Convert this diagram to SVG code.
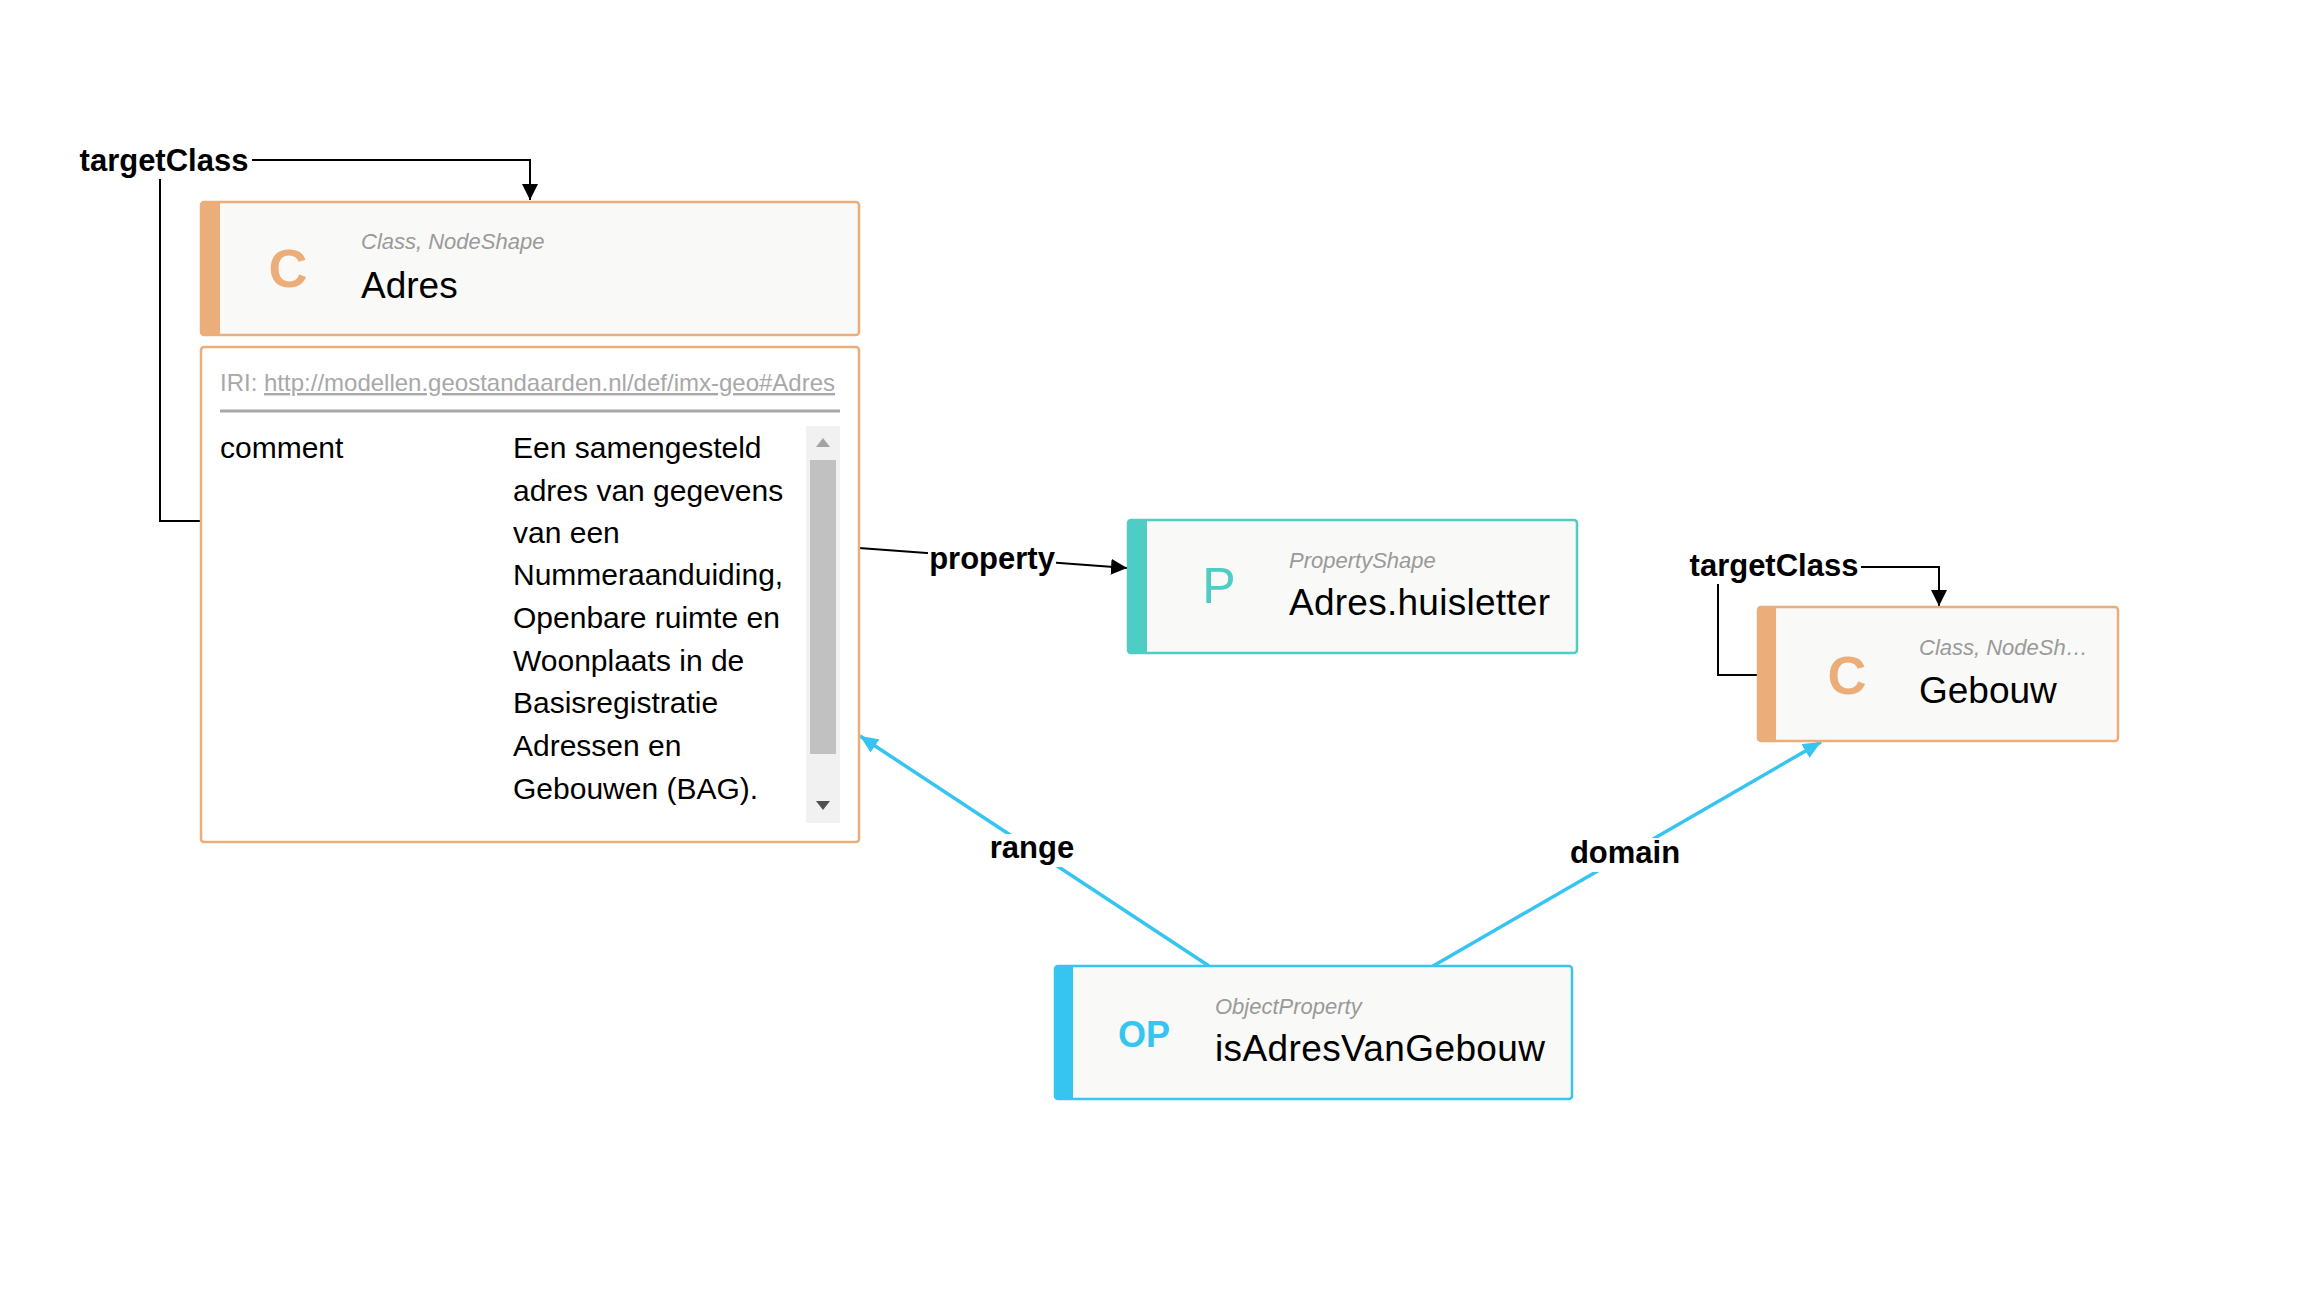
<svg xmlns="http://www.w3.org/2000/svg" width="2318" height="1301" viewBox="0 0 2318 1301">
<style>
.box{fill:#F9F9F7;stroke-width:2.5}
.org{stroke:#EBAE7A}
.tea{stroke:#4ECDC4}
.blu{stroke:#36C5F0}
.type{font-family:"Liberation Sans",Arial,sans-serif;font-style:italic;font-size:22px;fill:#9A9A9A}
.name{font-family:"Liberation Sans",Arial,sans-serif;font-size:37px;fill:#000}
.txt{font-family:"Liberation Sans",Arial,sans-serif;font-size:30px;fill:#000}
.lbl{font-family:"Liberation Sans",Arial,sans-serif;font-size:31px;font-weight:bold;fill:#000;text-anchor:middle}
.bg{fill:#FFFFFF}
.ek{fill:none;stroke:#000;stroke-width:2}
.eb{fill:none;stroke:#36C5F0;stroke-width:3.5}
</style>
<defs>
<marker id="ak" markerUnits="userSpaceOnUse" markerWidth="16" markerHeight="16" viewBox="0 0 16 16" refX="16" refY="8" orient="auto"><path d="M0,0 L16,8 L0,16 z" fill="#000"/></marker>
<marker id="ab" markerUnits="userSpaceOnUse" markerWidth="18" markerHeight="16" viewBox="0 0 18 16" refX="18" refY="8" orient="auto"><path d="M0,0 L18,8 L0,16 z" fill="#36C5F0"/></marker>
</defs>
<rect width="2318" height="1301" fill="#FFFFFF"/>
<g id="edges">
<path class="ek" d="M201,521 H160 V160 H530 V200" marker-end="url(#ak)"/>
<path class="ek" d="M1758,675 H1718 V567 H1939 V606" marker-end="url(#ak)"/>
<path class="ek" d="M859,548 L1127,568" marker-end="url(#ak)"/>
<path class="eb" d="M1209,966 L860,736" marker-end="url(#ab)"/>
<path class="eb" d="M1433,966 L1821,742" marker-end="url(#ab)"/>
<rect class="bg" x="76" y="147" width="176" height="32"/>
<text class="lbl" x="164" y="171">targetClass</text>
<rect class="bg" x="1687" y="552" width="174" height="32"/>
<text class="lbl" x="1774" y="576">targetClass</text>
<rect class="bg" x="928" y="545" width="128" height="32"/>
<text class="lbl" x="992" y="569">property</text>
<rect class="bg" x="988" y="834" width="88" height="33"/>
<text class="lbl" x="1032" y="858">range</text>
<rect class="bg" x="1568" y="838" width="114" height="34"/>
<text class="lbl" x="1625" y="863">domain</text>
</g>
<g id="node-adres">
<rect class="box org" x="201" y="202" width="658" height="133" rx="3"/>
<rect x="201" y="202" width="19" height="133" fill="#EBAE7A"/>
<text x="288" y="287" font-family="Liberation Sans, Arial, sans-serif" font-size="54" font-weight="bold" fill="#EBAE7A" text-anchor="middle">C</text>
<text class="type" x="361" y="249">Class, NodeShape</text>
<text class="name" x="361" y="298" font-size="38">Adres</text>
</g>
<g id="node-adres-details">
<rect x="201" y="347" width="658" height="495" rx="3" fill="#FFFFFF" stroke="#EBAE7A" stroke-width="2.5"/>
<text x="220" y="391" font-family="Liberation Sans, Arial, sans-serif" font-size="24" fill="#A8A8A8">IRI: <tspan text-decoration="underline">http://modellen.geostandaarden.nl/def/imx-geo#Adres</tspan></text>
<line x1="220" y1="411" x2="840" y2="411" stroke="#A8A8A8" stroke-width="3"/>
<text class="txt" x="220" y="458">comment</text>
<text class="txt" x="513" y="458">Een samengesteld</text>
<text class="txt" x="513" y="501">adres van gegevens</text>
<text class="txt" x="513" y="543">van een</text>
<text class="txt" x="513" y="585">Nummeraanduiding,</text>
<text class="txt" x="513" y="628">Openbare ruimte en</text>
<text class="txt" x="513" y="671">Woonplaats in de</text>
<text class="txt" x="513" y="713">Basisregistratie</text>
<text class="txt" x="513" y="756">Adressen en</text>
<text class="txt" x="513" y="799">Gebouwen (BAG).</text>
<rect x="806" y="426" width="34" height="397" fill="#F1F1F1"/>
<rect x="810" y="460" width="26" height="294" fill="#C1C1C1"/>
<path d="M816,447 L823,438 L830,447 z" fill="#A3A3A3"/>
<path d="M816,801 L823,810 L830,801 z" fill="#505050"/>
</g>
<g id="node-huisletter">
<rect class="box tea" x="1128" y="520" width="449" height="133" rx="3"/>
<rect x="1128" y="520" width="19" height="133" fill="#4ECDC4"/>
<text x="1219" y="603" font-family="Liberation Sans, Arial, sans-serif" font-size="50" fill="#4ECDC4" text-anchor="middle">P</text>
<text class="type" x="1289" y="568">PropertyShape</text>
<text class="name" x="1289" y="615" font-size="38" textLength="261">Adres.huisletter</text>
</g>
<g id="node-gebouw">
<rect class="box org" x="1758" y="607" width="360" height="134" rx="3"/>
<rect x="1758" y="607" width="18" height="134" fill="#EBAE7A"/>
<text x="1847" y="694" font-family="Liberation Sans, Arial, sans-serif" font-size="54" font-weight="bold" fill="#EBAE7A" text-anchor="middle">C</text>
<text class="type" x="1919" y="655">Class, NodeSh…</text>
<text class="name" x="1919" y="703">Gebouw</text>
</g>
<g id="node-isadresvangebouw">
<rect class="box blu" x="1055" y="966" width="517" height="133" rx="3"/>
<rect x="1055" y="966" width="18" height="133" fill="#36C5F0"/>
<text x="1144" y="1047" font-family="Liberation Sans, Arial, sans-serif" font-size="36" font-weight="bold" fill="#36C5F0" text-anchor="middle">OP</text>
<text class="type" x="1215" y="1014">ObjectProperty</text>
<text class="name" x="1215" y="1061" font-size="37" textLength="330">isAdresVanGebouw</text>
</g>
</svg>
